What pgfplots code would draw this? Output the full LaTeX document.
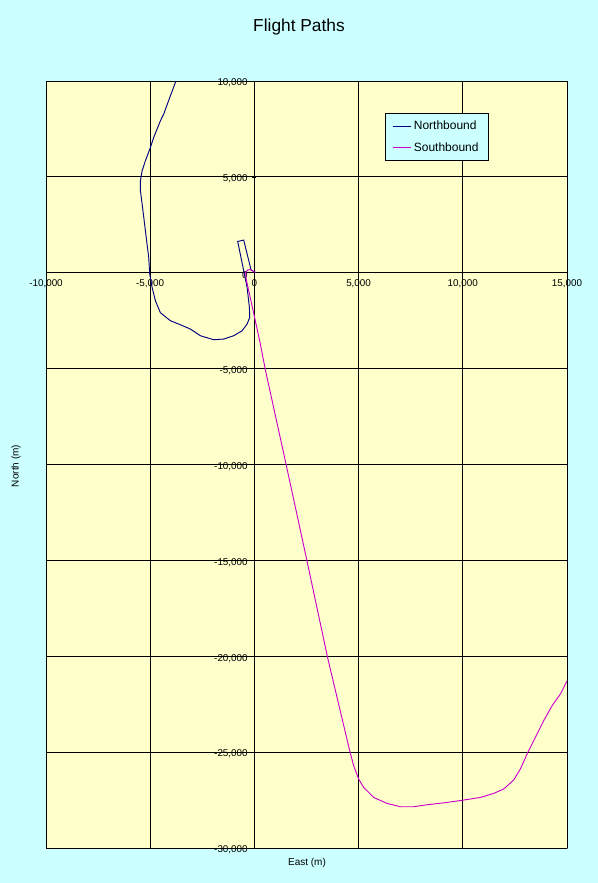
\documentclass[border=0pt]{standalone}
\usepackage{pgfplots}
\pgfplotsset{compat=1.18}
\usepackage{fontspec}
\setmainfont{Liberation Sans}
\definecolor{bgcyan}{RGB}{204,255,255}
\definecolor{plotyellow}{RGB}{255,255,204}
\definecolor{nb}{RGB}{0,0,128}
\definecolor{sb}{RGB}{204,0,204}
\begin{document}
\begin{tikzpicture}[x=1pt,y=1pt]
\fill[bgcyan] (0,0) rectangle (448.5,662.25);
\begin{axis}[
  at={(34.5pt,26.25pt)}, anchor=south west,
  scale only axis, width=390.75pt, height=575.25pt,
  xmin=-10000, xmax=15000, ymin=-30000, ymax=10000,
  axis lines=middle,
  axis line style={-, black, line width=0.6pt},
  hide obscured x ticks=false, hide obscured y ticks=false,
  xtick={-10000,-5000,...,15000}, ytick={-30000,-25000,...,10000},
  grid=major, major grid style={black, line width=0.6pt},
  axis background/.style={fill=plotyellow, draw=gray, line width=0.6pt},
  tick style={black, line width=0.5pt}, major tick length=3pt,
  tick label style={font=\fontsize{7.4}{8}\selectfont},
  yticklabel style={yshift=-1.5pt},
  scaled ticks=false,
  /pgf/number format/.cd, 1000 sep={,}, assume math mode=true, /pgfplots/.cd,
  legend style={at={(rel axis cs:0.651,0.958)}, anchor=north west, fill=bgcyan, draw=black, line width=0.6pt,
    font=\fontsize{9}{10}\selectfont, row sep=4pt, inner xsep=5pt, inner ysep=3.5pt, cells={anchor=west}},
  legend image code/.code={\draw[#1,line width=0.7pt] (0pt,0pt) -- (13.5pt,0pt);},
]
\addplot[nb, line width=0.7pt] coordinates {
(48,16) (-158,141) (-513,1705) (-801,1632) (-513,104) (-350,-767) (-240,-1810) (-225,-2331) (-350,-2675) (-590,-3025) (-993,-3285) (-1473,-3458) (-1953,-3494) (-2591,-3285) (-3071,-2936) (-3551,-2712) (-4030,-2503) (-4510,-2086) (-4750,-1460) (-4908,-767) (-5023,-68) (-5071,798) (-5230,2190) (-5388,3598) (-5470,4276) (-5470,4798) (-5388,5319) (-5230,5841) (-4990,6535) (-4832,7056) (-4510,7927) (-4352,8276) (-4030,9230) (-3790,9924) (-3720,10200)
};
\addlegendentry{Northbound}
\addplot[sb, line width=0.7pt] coordinates {
(48,16) (-200,170) (-330,140) (-420,20) (-400,-300) (254,-3546) (528,-5074) (1535,-10065) (2529,-15056) (3517,-20093) (4573,-24928) (4764,-25710) (5004,-26404) (5244,-26842) (5724,-27363) (6367,-27676) (7005,-27848) (7643,-27848) (8286,-27744) (9246,-27624) (10042,-27499) (10843,-27363) (11481,-27154) (11961,-26925) (12441,-26456) (12762,-25882) (13084,-25100) (13400,-24407) (13880,-23363) (14284,-22581) (14682,-21971) (15004,-21277)
};
\addlegendentry{Southbound}
\end{axis}
\node at (224.25,642) {\fontsize{13}{15}\selectfont Flight Paths};
\node at (230.25,15) {\fontsize{7.5}{9}\selectfont East (m)};
\node[rotate=90] at (12,312.75) {\fontsize{7.5}{9}\selectfont North (m)};
\pgfresetboundingbox
\useasboundingbox (0,0) rectangle (448.5,662.25);
\end{tikzpicture}
\end{document}
